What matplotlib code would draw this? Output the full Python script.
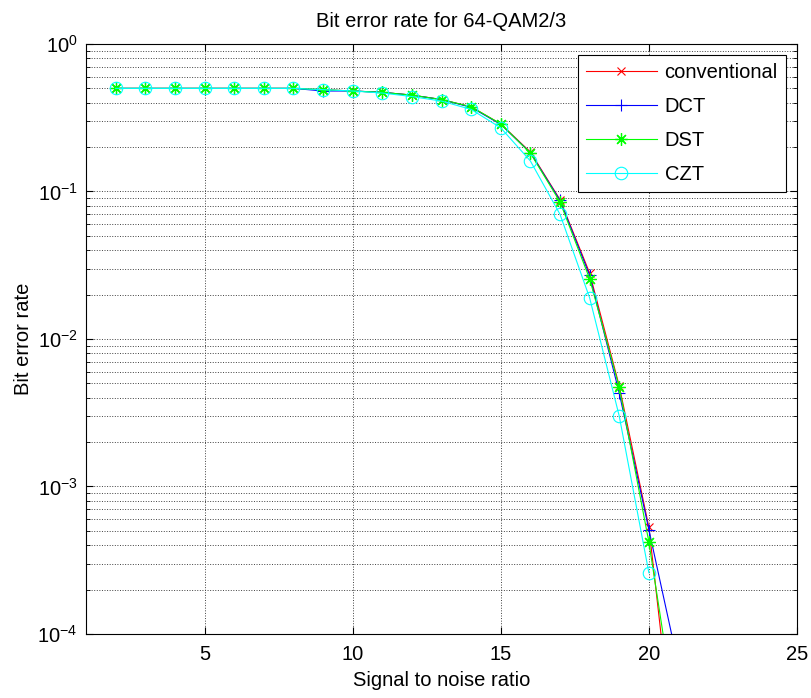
import matplotlib.pyplot as plt
import numpy as np
from matplotlib.ticker import LogLocator, NullFormatter

plt.rcParams['font.family'] = ['Liberation Sans', 'DejaVu Sans']
plt.rcParams['mathtext.default'] = 'regular'

# SNR points
snr = [2, 3, 4, 5, 6, 7, 8, 9, 10, 11, 12, 13, 14, 15, 16, 17, 18, 19, 20, 21]

# bit error rates
ber_conv = [0.50, 0.50, 0.50, 0.50, 0.50, 0.50, 0.50, 0.49, 0.48, 0.47, 0.45, 0.42,
            0.375, 0.287, 0.185, 0.088, 0.028, 0.0048, 0.00053, 9e-6]
ber_dct = [0.50, 0.50, 0.50, 0.50, 0.50, 0.50, 0.50, 0.48, 0.48, 0.47, 0.45, 0.42,
           0.372, 0.285, 0.183, 0.087, 0.027, 0.0043, 0.00051, 6.1e-5]
ber_dst = [0.50, 0.50, 0.50, 0.50, 0.50, 0.50, 0.50, 0.49, 0.48, 0.47, 0.45, 0.42,
           0.375, 0.287, 0.182, 0.085, 0.0256, 0.0047, 0.00042, 2.1e-5]
ber_czt = [0.50, 0.50, 0.50, 0.50, 0.50, 0.50, 0.50, 0.49, 0.48, 0.465, 0.44, 0.41,
           0.36, 0.27, 0.161, 0.070, 0.019, 0.0030, 0.00026, np.nan]

fs = 14.5

fig = plt.figure(figsize=(8.12, 6.98), dpi=100)
ax = fig.add_axes([0.106, 0.0917, 0.8755, 0.8453])

ax.semilogy(snr, ber_conv, color='red', marker='x', lw=0.8, ms=6, mew=0.8, label='conventional')
ax.semilogy(snr, ber_dct, color='blue', marker='+', lw=0.8, ms=9, mew=0.8, label='DCT')
ax.semilogy(snr, ber_dst, color='#00ff00', marker=(8, 2, 0), lw=0.8, ms=9, mew=0.9, label='DST')
ax.semilogy(snr, ber_czt, color='cyan', marker='o', lw=0.8, ms=9, mew=0.8,
            mfc='none', label='CZT')

ax.set_xlim(1, 25)
ax.set_ylim(1e-4, 1)
ax.set_xticks([5, 10, 15, 20, 25])
ax.yaxis.set_major_locator(LogLocator(base=10, numticks=10))
ax.yaxis.set_minor_locator(LogLocator(base=10, subs=np.arange(2, 10), numticks=20))
ax.yaxis.set_minor_formatter(NullFormatter())

ax.grid(True, which='major', color='0.25', linestyle=':', linewidth=0.7)
ax.grid(True, which='minor', axis='y', color='0.25', linestyle=':', linewidth=0.7)

ax.tick_params(which='both', direction='in', top=True, right=True, labelsize=fs)
ax.tick_params(which='major', length=5)
ax.tick_params(which='minor', length=3)
ax.tick_params(axis='x', which='major', pad=8)
ax.tick_params(axis='y', which='major', pad=6)
for s in ax.spines.values():
    s.set_linewidth(0.8)

ax.set_title('Bit error rate for 64-QAM2/3', fontsize=fs, pad=12.5)
ax.set_xlabel('Signal to noise ratio', fontsize=fs, labelpad=5)
ax.set_ylabel('Bit error rate', fontsize=fs, labelpad=3)

leg = ax.legend(loc='upper right', fontsize=fs, fancybox=False, framealpha=1,
                edgecolor='black', handlelength=3.5, handletextpad=0.4,
                borderaxespad=0.55, labelspacing=0.75)
leg.get_frame().set_linewidth(0.8)

fig.savefig('out.png', dpi=100)
